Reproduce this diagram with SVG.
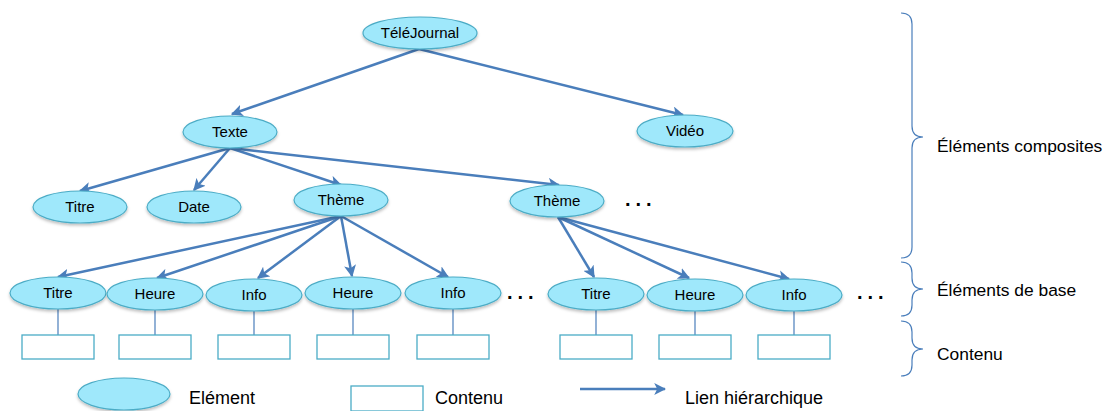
<svg xmlns="http://www.w3.org/2000/svg" width="1105" height="411" viewBox="0 0 1105 411">
<style>
.node ellipse{fill:#9fe8fb;stroke:#4bacc6;stroke-width:1.2;filter:url(#sh)}
.lbl{font-family:"Liberation Sans",Arial,sans-serif;font-size:15px;fill:#000;text-anchor:middle}
.box{fill:#fff;stroke:#4bacc6;stroke-width:1.3}
.arr{stroke:#4a7ebb;stroke-width:2.5;fill:none;marker-end:url(#ah)}
.stem{stroke:#4a7ebb;stroke-width:1.2}
.brace{stroke:#4a7ebb;stroke-width:1.2;fill:none}
.side{font-family:"Liberation Sans",Arial,sans-serif;font-size:17.4px;fill:#000}
.leg{font-family:"Liberation Sans",Arial,sans-serif;font-size:18px;fill:#000}
.dots{font-family:"Liberation Sans",Arial,sans-serif;font-size:20px;font-weight:bold;fill:#000;letter-spacing:5px}
</style>
<defs>
<marker id="ah" viewBox="0 0 10 10" refX="9" refY="5" markerWidth="4.8" markerHeight="4.8" orient="auto" markerUnits="strokeWidth">
<path d="M0,0 L10,5 L0,10 L2.5,5 z" fill="#4a7ebb"/>
</marker>
<filter id="sh" x="-20%" y="-30%" width="140%" height="170%">
<feDropShadow dx="0" dy="2" stdDeviation="1.5" flood-color="#000" flood-opacity="0.25"/>
</filter>
</defs>
<rect width="1105" height="411" fill="#fff"/>

<g id="connectors">
<line class="arr" x1="419" y1="49" x2="232" y2="114"/>
<line class="arr" x1="419" y1="49" x2="683" y2="115"/>
<line class="arr" x1="230" y1="148" x2="80" y2="191"/>
<line class="arr" x1="230" y1="148" x2="194" y2="190"/>
<line class="arr" x1="230" y1="148" x2="341" y2="185"/>
<line class="arr" x1="230" y1="148" x2="559" y2="185"/>
<line class="arr" x1="341" y1="216" x2="58" y2="277"/>
<line class="arr" x1="341" y1="216" x2="157" y2="278"/>
<line class="arr" x1="341" y1="216" x2="258" y2="278"/>
<line class="arr" x1="341" y1="216" x2="352" y2="276"/>
<line class="arr" x1="341" y1="216" x2="448" y2="277"/>
<line class="arr" x1="558" y1="217" x2="594" y2="277"/>
<line class="arr" x1="558" y1="217" x2="689" y2="278"/>
<line class="arr" x1="558" y1="217" x2="789" y2="279"/>
<line class="stem" x1="58" y1="309" x2="58" y2="335"/>
<line class="stem" x1="155" y1="310" x2="155" y2="335"/>
<line class="stem" x1="254" y1="311" x2="254" y2="335"/>
<line class="stem" x1="353" y1="309" x2="353" y2="335"/>
<line class="stem" x1="453" y1="309" x2="453" y2="335"/>
<line class="stem" x1="596" y1="310" x2="596" y2="335"/>
<line class="stem" x1="695" y1="311" x2="695" y2="335"/>
<line class="stem" x1="794" y1="311" x2="794" y2="335"/>
</g>

<g id="n-telejournal" class="node"><ellipse cx="420" cy="33" rx="57" ry="16"/><text class="lbl" x="420" y="38">TéléJournal</text></g>
<g id="n-texte" class="node"><ellipse cx="230" cy="132" rx="47" ry="16"/><text class="lbl" x="230" y="137">Texte</text></g>
<g id="n-video" class="node"><ellipse cx="685" cy="131" rx="48" ry="16"/><text class="lbl" x="685" y="136">Vidéo</text></g>
<g id="n-titre1" class="node"><ellipse cx="80" cy="207" rx="47" ry="16"/><text class="lbl" x="80" y="212">Titre</text></g>
<g id="n-date" class="node"><ellipse cx="194" cy="207" rx="47" ry="16"/><text class="lbl" x="194" y="212">Date</text></g>
<g id="n-theme1" class="node"><ellipse cx="341" cy="200" rx="47" ry="16"/><text class="lbl" x="341" y="205">Thème</text></g>
<g id="n-theme2" class="node"><ellipse cx="557" cy="201" rx="47" ry="16"/><text class="lbl" x="557" y="206">Thème</text></g>

<g id="n-titre2" class="node"><ellipse cx="58" cy="293" rx="48" ry="16"/><text class="lbl" x="58" y="298">Titre</text></g>
<g id="n-heure1" class="node"><ellipse cx="155" cy="294" rx="48" ry="16"/><text class="lbl" x="155" y="299">Heure</text></g>
<g id="n-info1" class="node"><ellipse cx="254" cy="295" rx="48" ry="16"/><text class="lbl" x="254" y="300">Info</text></g>
<g id="n-heure2" class="node"><ellipse cx="353" cy="293" rx="48" ry="16"/><text class="lbl" x="353" y="298">Heure</text></g>
<g id="n-info2" class="node"><ellipse cx="453" cy="293" rx="48" ry="16"/><text class="lbl" x="453" y="298">Info</text></g>
<g id="n-titre3" class="node"><ellipse cx="596" cy="294" rx="48" ry="16"/><text class="lbl" x="596" y="299">Titre</text></g>
<g id="n-heure3" class="node"><ellipse cx="695" cy="295" rx="48" ry="16"/><text class="lbl" x="695" y="300">Heure</text></g>
<g id="n-info3" class="node"><ellipse cx="794" cy="295" rx="48" ry="16"/><text class="lbl" x="794" y="300">Info</text></g>

<g id="contents">
<rect class="box" x="22" y="335" width="72" height="24"/>
<rect class="box" x="119" y="335" width="72" height="24"/>
<rect class="box" x="218" y="335" width="72" height="24"/>
<rect class="box" x="317" y="335" width="72" height="24"/>
<rect class="box" x="417" y="335" width="72" height="24"/>
<rect class="box" x="560" y="335" width="72" height="24"/>
<rect class="box" x="659" y="335" width="72" height="24"/>
<rect class="box" x="758" y="335" width="72" height="24"/>
</g>

<g id="ellipsis">
<text class="dots" x="625" y="206">...</text>
<text class="dots" x="507" y="299">...</text>
<text class="dots" x="857" y="299">...</text>
</g>

<g id="levels">
<path class="brace" d="M901,13 Q912,13 912,24 L912,126 Q912,137 923,137 Q912,137 912,148 L912,247 Q912,258 901,258"/>
<path class="brace" d="M901,262 Q912,262 912,273 L912,278 Q912,289 923,289 Q912,289 912,300 L912,305 Q912,316 901,316"/>
<path class="brace" d="M901,321 Q912,321 912,332 L912,338 Q912,349 923,349 Q912,349 912,360 L912,365 Q912,376 901,376"/>
<text class="side" x="937" y="152">Éléments composites</text>
<text class="side" x="937" y="296">Éléments de base</text>
<text class="side" x="937" y="360">Contenu</text>
</g>

<g id="legend">
<g class="node"><ellipse cx="124" cy="394" rx="46" ry="16"/></g>
<text class="leg" x="189" y="404">Elément</text>
<rect class="box" x="351" y="386" width="72" height="25"/>
<text class="leg" x="435" y="404">Contenu</text>
<line class="arr" x1="580" y1="389" x2="665" y2="389"/>
<text class="leg" x="685" y="404">Lien hiérarchique</text>
</g>
</svg>
